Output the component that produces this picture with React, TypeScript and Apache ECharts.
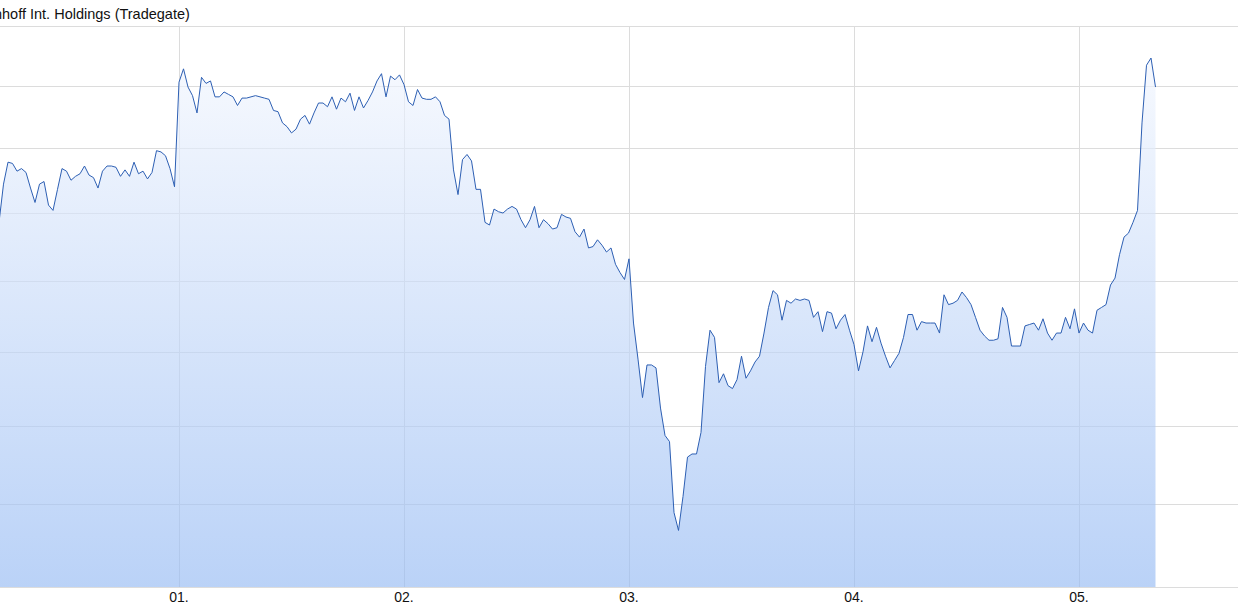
import React, { useEffect, useRef } from "react";
import * as echarts from "echarts";

// Price series (EUR), one point per sampling step, starting at step index 10
const startIndex = 10;
const prices: number[] = [
  0.1143, 0.1172, 0.1189, 0.1188, 0.1182, 0.1184, 0.1181, 0.1169, 0.1158, 0.1172,
  0.1174, 0.1156, 0.1152, 0.1168, 0.1184, 0.1182, 0.1175, 0.1178, 0.1180, 0.1186,
  0.1179, 0.1177, 0.1169, 0.1182, 0.1186, 0.1186, 0.1185, 0.1178, 0.1183, 0.1178,
  0.1189, 0.1180, 0.1182, 0.1176, 0.1181, 0.1198, 0.1197, 0.1194, 0.1184, 0.1170,
  0.1253, 0.1264, 0.1249, 0.1242, 0.1228, 0.1257, 0.1252, 0.1254, 0.1241, 0.1241,
  0.1245, 0.1243, 0.1241, 0.1234, 0.1240, 0.1240, 0.1241, 0.1242, 0.1241, 0.1240,
  0.1239, 0.1230, 0.1229, 0.1220, 0.1217, 0.1212, 0.1215, 0.1223, 0.1226, 0.1219,
  0.1228, 0.1236, 0.1236, 0.1233, 0.1241, 0.1231, 0.1240, 0.1237, 0.1244, 0.1230,
  0.1241, 0.1232, 0.1238, 0.1245, 0.1254, 0.1260, 0.1241, 0.1258, 0.1255, 0.1259,
  0.1251, 0.1237, 0.1234, 0.1247, 0.1240, 0.1239, 0.1239, 0.1241, 0.1237, 0.1226,
  0.1223, 0.1183, 0.1164, 0.1191, 0.1195, 0.1190, 0.1168, 0.1168, 0.1143, 0.1141,
  0.1153, 0.1151, 0.1150, 0.1153, 0.1155, 0.1153, 0.1145, 0.1139, 0.1145, 0.1155,
  0.1139, 0.1145, 0.1142, 0.1138, 0.1139, 0.1149, 0.1147, 0.1146, 0.1136, 0.1132,
  0.1138, 0.1124, 0.1125, 0.1130, 0.1126, 0.1121, 0.1124, 0.1112, 0.1106, 0.1101,
  0.1116, 0.1070, 0.1045, 0.1019, 0.1041, 0.1041, 0.1039, 0.1012, 0.0994, 0.0990,
  0.0945, 0.0934, 0.0955, 0.0980, 0.0982, 0.0982, 0.0996, 0.1040, 0.1065, 0.1060,
  0.1029, 0.1035, 0.1027, 0.1025, 0.1031, 0.1047, 0.1032, 0.1037, 0.1043, 0.1047,
  0.1063, 0.1081, 0.1093, 0.1090, 0.1072, 0.1086, 0.1084, 0.1087, 0.1086, 0.1087,
  0.1086, 0.1074, 0.1078, 0.1064, 0.1078, 0.1077, 0.1066, 0.1072, 0.1076, 0.1065,
  0.1055, 0.1037, 0.1050, 0.1068, 0.1057, 0.1067, 0.1056, 0.1047, 0.1039, 0.1044,
  0.1049, 0.1060, 0.1076, 0.1076, 0.1065, 0.1071, 0.1070, 0.1070, 0.1070, 0.1063,
  0.1090, 0.1083, 0.1084, 0.1086, 0.1092, 0.1088, 0.1083, 0.1074, 0.1065, 0.1061,
  0.1058, 0.1058, 0.1059, 0.1081, 0.1074, 0.1054, 0.1054, 0.1054, 0.1068, 0.1069,
  0.1070, 0.1065, 0.1073, 0.1063, 0.1058, 0.1063, 0.1063, 0.1074, 0.1066, 0.1080,
  0.1063, 0.1070, 0.1065, 0.1063, 0.1079, 0.1081, 0.1083, 0.1097, 0.1102, 0.1119,
  0.1132, 0.1135, 0.1143, 0.1152, 0.1220, 0.1267, 0.1273, 0.1249,
];

// Month boundaries (in sampling steps) and their labels
const monthTicks: number[] = [50, 100, 150, 200, 250];
const monthLabels: string[] = ["01.", "02.", "03.", "04.", "05."];

// Horizontal grid levels (EUR)
const gridLevels: number[] = [0.09, 0.095, 0.1, 0.105, 0.11, 0.115, 0.12, 0.125, 0.13];

const titleText = "Steinhoff Int. Holdings (Tradegate)";

export default function App() {
  const ref = useRef<HTMLDivElement>(null);

  useEffect(() => {
    if (!ref.current) return;
    const chart = echarts.init(ref.current, null, { renderer: "svg" });
    const seriesData = prices.map((p, i) => [i + startIndex, p]);

    chart.setOption({
      animation: false,
      backgroundColor: "#ffffff",
      title: {
        text: titleText,
        left: -31,
        top: 6,
        padding: 0,
        textStyle: {
          fontSize: 14.5,
          fontWeight: "normal",
          color: "#111",
          fontFamily: "'Liberation Sans', Arial, sans-serif",
        },
      },
      grid: {
        left: -46,
        right: -66,
        top: 26,
        bottom: 17,
        containLabel: false,
        outerBoundsMode: "none",
      },
      xAxis: {
        type: "value",
        min: 0,
        max: 300,
        interval: 50,
        axisLine: { show: false },
        axisTick: { show: false },
        splitLine: { show: true, lineStyle: { color: "#dcdcdc", width: 1 } },
        axisLabel: {
          margin: 4,
          fontSize: 14,
          lineHeight: 12,
          color: "#111",
          fontFamily: "'Liberation Sans', Arial, sans-serif",
          formatter: (v: number) => {
            const k = monthTicks.indexOf(v);
            return k >= 0 ? monthLabels[k] : "";
          },
        },
      },
      yAxis: {
        type: "log",
        min: gridLevels[0],
        max: gridLevels[gridLevels.length - 1],
        axisLine: { show: false },
        axisTick: { show: false },
        axisLabel: { show: false },
        splitLine: { show: false },
      },
      series: [
        {
          type: "line",
          data: [],
          z: 1,
          silent: true,
          markLine: {
            silent: true,
            z: 1,
            precision: 5,
            symbol: ["none", "none"],
            label: { show: false },
            lineStyle: { color: "#dcdcdc", width: 1, type: "solid" },
            emphasis: { disabled: true },
            data: gridLevels.map((v) => ({ yAxis: v })),
          },
        },
        {
          type: "line",
          data: seriesData,
          z: 2,
          showSymbol: false,
          symbol: "none",
          smooth: false,
          lineStyle: { color: "#2d5fb3", width: 1 },
          areaStyle: {
            origin: "start",
            opacity: 1,
            color: new echarts.graphic.LinearGradient(0, 0, 0, 1, [
              { offset: 0, color: "rgba(242,246,254,0.65)" },
              { offset: 1, color: "rgba(149,186,243,0.65)" },
            ]),
          },
        },
      ],
    });

    return () => chart.dispose();
  }, []);

  return (
    <div
      ref={ref}
      style={{ position: "fixed", left: 0, top: 0, width: 1238, height: 604 }}
    />
  );
}
